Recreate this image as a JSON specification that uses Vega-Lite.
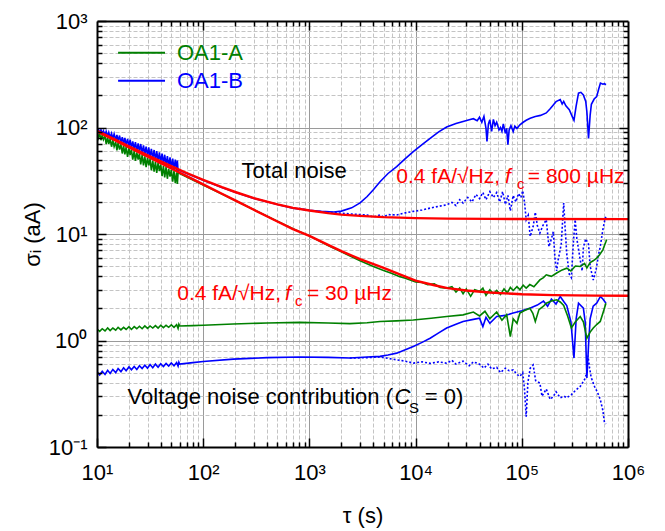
{
  "$schema": "https://vega.github.io/schema/vega-lite/v6.json",
  "width": 531,
  "height": 426,
  "autosize": {"type": "none"},
  "padding": {"left": 97, "top": 21, "right": 37, "bottom": 84},
  "config": {
    "view": {"stroke": null},
    "font": "Liberation Sans",
    "legend": {"disable": true},
    "axis": {"labelFont": "Liberation Sans", "titleFont": "Liberation Sans"}
  },
  "datasets": {
    "B_tot": [
      {"t":10,"v":93},{"t":10.3,"v":96},{"t":10.6,"v":90},{"t":10.9,"v":95},{"t":11.2,"v":87.5},{"t":11.5,"v":93},{"t":11.9,"v":85},{"t":12.2,"v":92},{"t":12.6,"v":83},{"t":12.9,"v":90},{"t":13.3,"v":80.5},{"t":13.7,"v":88},{"t":14.1,"v":78.5},{"t":14.5,"v":87},{"t":15,"v":76},{"t":15.4,"v":85},{"t":15.8,"v":74},{"t":16.3,"v":84},{"t":16.8,"v":72},{"t":17.3,"v":81},{"t":17.8,"v":70},{"t":18.3,"v":80},{"t":18.8,"v":68},{"t":19.4,"v":78},{"t":20,"v":66},{"t":20.5,"v":77},{"t":21.1,"v":64},{"t":21.7,"v":74},{"t":22.4,"v":62.5},{"t":23,"v":73},{"t":23.7,"v":60.5},{"t":24.4,"v":71},{"t":25.1,"v":59},{"t":25.8,"v":70},{"t":26.6,"v":57},{"t":27.4,"v":68},{"t":28.2,"v":55.5},{"t":29,"v":66},{"t":29.9,"v":54},{"t":30.7,"v":65},{"t":31.6,"v":52.5},{"t":32.5,"v":63},{"t":33.5,"v":51},{"t":34.5,"v":61.5},{"t":35.5,"v":49.5},{"t":36.5,"v":60},{"t":37.6,"v":48},{"t":38.7,"v":58.5},{"t":39.8,"v":47},{"t":41,"v":57},{"t":42.2,"v":45.5},{"t":43.4,"v":55.5},{"t":44.7,"v":44},{"t":46,"v":54},{"t":47.3,"v":43},{"t":48.7,"v":52.5},{"t":50.1,"v":41.5},{"t":51.6,"v":51},{"t":53.1,"v":40.5},{"t":54.6,"v":50},{"t":56.2,"v":39.5},{"t":57.1,"v":49},{"t":58,"v":39},{"t":59,"v":39.5},
      {"t":60,"v":39.5},{"t":80,"v":35},{"t":100,"v":32},{"t":150,"v":27.4},{"t":200,"v":24.7},{"t":300,"v":21.6},{"t":500,"v":18.9},{"t":700,"v":17.5},{"t":1000,"v":16.7},{"t":1300,"v":16.3},{"t":1700,"v":16.1},{"t":2000,"v":16.4},{"t":2500,"v":17.6},{"t":3000,"v":19.6},{"t":3500,"v":22.5},{"t":4000,"v":26},{"t":4624,"v":31},{"t":5500,"v":37},{"t":6637,"v":43},{"t":8000,"v":51},{"t":9510,"v":59.3},{"t":11500,"v":69},{"t":13700,"v":79},{"t":16500,"v":91},{"t":19600,"v":101},{"t":24000,"v":109},{"t":28000,"v":114},{"t":32000,"v":118},{"t":35000,"v":121},{"t":38000,"v":116},{"t":40000,"v":125},{"t":42000,"v":112},{"t":44000,"v":127},{"t":46000,"v":98},{"t":47000,"v":74},{"t":48500,"v":108},{"t":50000,"v":118},{"t":52000,"v":92},{"t":54000,"v":119},{"t":56000,"v":104},{"t":58000,"v":112},{"t":61000,"v":95},{"t":63000,"v":100},{"t":65000,"v":92},{"t":67000,"v":108},{"t":70000,"v":88},{"t":72000,"v":98},{"t":74000,"v":69},{"t":76000,"v":95},{"t":79000,"v":104},{"t":83000,"v":91.5},{"t":86000,"v":103},{"t":90000,"v":98},{"t":96000,"v":106},{"t":103000,"v":112},{"t":110000,"v":117},{"t":120000,"v":122},{"t":134000,"v":127},{"t":150000,"v":130},{"t":170000,"v":137},{"t":185000,"v":150},{"t":198000,"v":163},{"t":210000,"v":175},{"t":230000,"v":183},{"t":240000,"v":166},{"t":248000,"v":176},{"t":260000,"v":160},{"t":280000,"v":147},{"t":300000,"v":125},{"t":310000,"v":117},{"t":325000,"v":160},{"t":342000,"v":210},{"t":360000,"v":214},{"t":380000,"v":202},{"t":400000,"v":176},{"t":410000,"v":140},{"t":425000,"v":79},{"t":440000,"v":130},{"t":452000,"v":165},{"t":480000,"v":185},{"t":507000,"v":195},{"t":530000,"v":230},{"t":550000,"v":261},{"t":580000,"v":255},{"t":600000,"v":258},{"t":620000,"v":252}
    ],
    "B_tot2": [
      {"t":800,"v":17.4},{"t":1000,"v":16.6},{"t":1300,"v":16.1},{"t":1660,"v":15.9},{"t":2000,"v":15.7},{"t":2500,"v":15.4},{"t":3500,"v":15.1},{"t":4000,"v":14.4},{"t":4624,"v":15.1},{"t":5000,"v":14.4},{"t":5500,"v":15.2},{"t":6637,"v":15.1},{"t":8000,"v":15.8},{"t":9510,"v":16.3},{"t":11500,"v":16.8},{"t":13700,"v":17.5},{"t":16500,"v":18.2},{"t":19600,"v":18.8},{"t":22000,"v":19.8},{"t":24000,"v":18.5},{"t":26000,"v":21},{"t":28000,"v":19.5},{"t":31000,"v":22},{"t":34000,"v":20},{"t":37000,"v":23.5},{"t":40000,"v":21.5},{"t":43000,"v":24.5},{"t":46000,"v":21},{"t":50000,"v":25},{"t":54000,"v":22},{"t":58000,"v":24.5},{"t":62000,"v":20},{"t":66000,"v":25},{"t":70000,"v":19},{"t":74000,"v":23},{"t":78000,"v":16.5},{"t":83000,"v":23},{"t":88000,"v":20},{"t":93000,"v":24},{"t":98000,"v":22},{"t":102000,"v":25.5},{"t":106000,"v":20},{"t":110000,"v":13.6},{"t":115000,"v":15},{"t":120000,"v":9.5},{"t":128000,"v":11.8},{"t":134000,"v":16},{"t":140000,"v":12},{"t":148000,"v":10.2},{"t":158000,"v":12},{"t":170000,"v":13.6},{"t":180000,"v":7.6},{"t":190000,"v":9},{"t":198000,"v":10.5},{"t":205000,"v":6},{"t":213000,"v":4.5},{"t":220000,"v":5.7},{"t":235000,"v":8},{"t":248000,"v":19.5},{"t":255000,"v":12},{"t":265000,"v":6.5},{"t":280000,"v":4.2},{"t":293000,"v":3.9},{"t":305000,"v":8},{"t":318000,"v":13.6},{"t":330000,"v":9},{"t":355000,"v":5.7},{"t":370000,"v":4.5},{"t":380000,"v":7.5},{"t":400000,"v":9},{"t":425000,"v":8},{"t":440000,"v":5},{"t":471000,"v":3.7},{"t":500000,"v":4.6},{"t":530000,"v":6.5},{"t":548000,"v":7.6},{"t":580000,"v":11},{"t":610000,"v":14.1},{"t":620000,"v":14.5}
    ],
    "B_v": [
      {"t":10,"v":0.51},{"t":10.6,"v":0.475},{"t":11.2,"v":0.515},{"t":11.9,"v":0.48},{"t":12.6,"v":0.525},{"t":13.3,"v":0.49},{"t":14.1,"v":0.535},{"t":15,"v":0.5},{"t":15.8,"v":0.545},{"t":16.8,"v":0.51},{"t":17.8,"v":0.555},{"t":18.8,"v":0.52},{"t":20,"v":0.565},{"t":21.1,"v":0.53},{"t":22.4,"v":0.57},{"t":23.7,"v":0.535},{"t":25.1,"v":0.58},{"t":26.6,"v":0.545},{"t":28.2,"v":0.585},{"t":29.9,"v":0.55},{"t":31.6,"v":0.595},{"t":33.5,"v":0.555},{"t":35.5,"v":0.6},{"t":37.6,"v":0.56},{"t":39.8,"v":0.605},{"t":42.2,"v":0.57},{"t":44.7,"v":0.61},{"t":47.3,"v":0.575},{"t":50.1,"v":0.615},{"t":53.1,"v":0.58},{"t":56.2,"v":0.62},{"t":58,"v":0.575},{"t":59,"v":0.625},{"t":60,"v":0.6},{"t":80,"v":0.62},{"t":100,"v":0.635},{"t":192,"v":0.669},{"t":400,"v":0.69},{"t":813,"v":0.7},{"t":1500,"v":0.695},{"t":2400,"v":0.684},{"t":3500,"v":0.7},{"t":4624,"v":0.71},{"t":5500,"v":0.73},{"t":6637,"v":0.761},{"t":8000,"v":0.82},{"t":9510,"v":0.878},{"t":11500,"v":0.96},{"t":13700,"v":1.05},{"t":16500,"v":1.18},{"t":19600,"v":1.31},{"t":24000,"v":1.42},{"t":28000,"v":1.51},{"t":35000,"v":1.58},{"t":40000,"v":1.62},{"t":43000,"v":1.35},{"t":46000,"v":1.65},{"t":50000,"v":1.45},{"t":58000,"v":1.68},{"t":70000,"v":1.72},{"t":83000,"v":1.81},{"t":100000,"v":1.9},{"t":119000,"v":2.01},{"t":140000,"v":2.15},{"t":160000,"v":2.35},{"t":175000,"v":2.1},{"t":190000,"v":2.45},{"t":210000,"v":2.2},{"t":230000,"v":2.59},{"t":250000,"v":2.3},{"t":265000,"v":2.13},{"t":290000,"v":1.5},{"t":310000,"v":0.684},{"t":325000,"v":1.6},{"t":342000,"v":2.24},{"t":380000,"v":2.01},{"t":395000,"v":1.5},{"t":410000,"v":0.444},{"t":425000,"v":0.9},{"t":440000,"v":1.6},{"t":470000,"v":2.1},{"t":507000,"v":2.24},{"t":550000,"v":2.59},{"t":580000,"v":2.45},{"t":620000,"v":2.24}
    ],
    "B_v2": [
      {"t":2400,"v":0.684},{"t":3500,"v":0.69},{"t":4624,"v":0.7},{"t":5500,"v":0.68},{"t":6637,"v":0.659},{"t":8000,"v":0.64},{"t":9510,"v":0.613},{"t":11500,"v":0.63},{"t":13700,"v":0.61},{"t":16500,"v":0.63},{"t":19600,"v":0.612},{"t":22000,"v":0.65},{"t":24000,"v":0.6},{"t":28000,"v":0.64},{"t":32000,"v":0.58},{"t":35000,"v":0.63},{"t":40000,"v":0.6},{"t":44000,"v":0.55},{"t":48000,"v":0.6},{"t":52000,"v":0.54},{"t":58000,"v":0.56},{"t":63000,"v":0.5},{"t":70000,"v":0.55},{"t":76000,"v":0.52},{"t":83000,"v":0.53},{"t":90000,"v":0.48},{"t":96000,"v":0.46},{"t":102000,"v":0.5},{"t":106000,"v":0.35},{"t":110000,"v":0.193},{"t":114000,"v":0.4},{"t":120000,"v":0.55},{"t":128000,"v":0.59},{"t":135000,"v":0.42},{"t":148000,"v":0.398},{"t":155000,"v":0.3},{"t":170000,"v":0.35},{"t":185000,"v":0.28},{"t":198000,"v":0.298},{"t":210000,"v":0.33},{"t":230000,"v":0.29},{"t":250000,"v":0.3},{"t":265000,"v":0.29},{"t":293000,"v":0.31},{"t":320000,"v":0.34},{"t":355000,"v":0.37},{"t":390000,"v":0.43},{"t":410000,"v":0.5},{"t":420000,"v":0.72},{"t":435000,"v":0.55},{"t":450000,"v":0.45},{"t":484000,"v":0.37},{"t":520000,"v":0.32},{"t":548000,"v":0.28},{"t":580000,"v":0.22},{"t":600000,"v":0.17},{"t":620000,"v":0.165}
    ],
    "A_tot": [
      {"t":10,"v":91},{"t":10.3,"v":80},{"t":10.6,"v":88},{"t":10.9,"v":76},{"t":11.2,"v":85},{"t":11.5,"v":77},{"t":11.9,"v":83},{"t":12.2,"v":70},{"t":12.6,"v":80.5},{"t":12.9,"v":70},{"t":13.3,"v":78},{"t":13.7,"v":66},{"t":14.1,"v":76},{"t":14.5,"v":66},{"t":15,"v":73},{"t":15.4,"v":61},{"t":15.8,"v":72},{"t":16.3,"v":62},{"t":16.8,"v":69.5},{"t":17.3,"v":57},{"t":17.8,"v":67.5},{"t":18.3,"v":56},{"t":18.8,"v":65.5},{"t":19.4,"v":53},{"t":20,"v":64},{"t":20.5,"v":55},{"t":21.1,"v":62},{"t":21.7,"v":50},{"t":22.4,"v":60},{"t":23,"v":48.5},{"t":23.7,"v":58.5},{"t":24.4,"v":50},{"t":25.1,"v":57},{"t":25.8,"v":45},{"t":26.6,"v":55},{"t":27.4,"v":44},{"t":28.2,"v":53.5},{"t":29,"v":42.5},{"t":29.9,"v":52},{"t":30.7,"v":44},{"t":31.6,"v":50.5},{"t":32.5,"v":39.5},{"t":33.5,"v":49},{"t":34.5,"v":38.5},{"t":35.5,"v":47.5},{"t":36.5,"v":37.5},{"t":37.6,"v":46.5},{"t":38.7,"v":39},{"t":39.8,"v":45},{"t":41,"v":35},{"t":42.2,"v":43.5},{"t":43.4,"v":34},{"t":44.7,"v":42.5},{"t":46,"v":33},{"t":47.3,"v":41},{"t":48.7,"v":34.5},{"t":50.1,"v":40},{"t":51.6,"v":31},{"t":53.1,"v":39},{"t":54.6,"v":30},{"t":56.2,"v":38},{"t":57.1,"v":29.5},{"t":58,"v":37.5},
      {"t":60,"v":37},{"t":80,"v":32.2},{"t":100,"v":28.9},{"t":150,"v":23.7},{"t":200,"v":20.6},{"t":300,"v":16.9},{"t":500,"v":13.2},{"t":700,"v":11.2},{"t":1000,"v":9.6},{"t":1500,"v":7.8},{"t":2000,"v":6.8},{"t":2500,"v":6.1},{"t":3000,"v":5.6},{"t":4000,"v":4.95},{"t":5000,"v":4.55},{"t":6000,"v":4.25},{"t":7000,"v":4.0},{"t":8000,"v":3.85},{"t":10000,"v":3.55},{"t":11500,"v":3.5},{"t":13000,"v":3.35},{"t":15000,"v":3.4},{"t":17000,"v":3.15},{"t":19600,"v":3.1},{"t":22000,"v":3.2},{"t":24000,"v":2.85},{"t":26000,"v":3.1},{"t":28000,"v":2.75},{"t":30000,"v":3.05},{"t":33000,"v":2.6},{"t":36000,"v":3.0},{"t":40000,"v":2.9},{"t":43000,"v":3.1},{"t":46000,"v":2.65},{"t":50000,"v":3.0},{"t":54000,"v":2.75},{"t":58000,"v":2.95},{"t":63000,"v":2.7},{"t":68000,"v":3.05},{"t":73000,"v":2.8},{"t":78000,"v":3.15},{"t":83000,"v":2.95},{"t":90000,"v":3.2},{"t":96000,"v":3.0},{"t":103000,"v":3.3},{"t":110000,"v":3.1},{"t":119000,"v":3.35},{"t":130000,"v":3.2},{"t":148000,"v":3.71},{"t":160000,"v":3.9},{"t":170000,"v":4.14},{"t":190000,"v":4.0},{"t":213000,"v":4.3},{"t":240000,"v":4.6},{"t":265000,"v":4.78},{"t":290000,"v":4.5},{"t":320000,"v":5.0},{"t":355000,"v":4.95},{"t":390000,"v":5.3},{"t":410000,"v":4.8},{"t":440000,"v":5.4},{"t":470000,"v":5.6},{"t":507000,"v":5.94},{"t":540000,"v":6.4},{"t":580000,"v":7.1},{"t":600000,"v":7.8},{"t":620000,"v":8.5},{"t":630000,"v":8.9}
    ],
    "A_v": [
      {"t":10,"v":1.28},{"t":10.6,"v":1.22},{"t":11.2,"v":1.29},{"t":11.9,"v":1.23},{"t":12.6,"v":1.31},{"t":13.3,"v":1.24},{"t":14.1,"v":1.31},{"t":15,"v":1.25},{"t":15.8,"v":1.33},{"t":16.8,"v":1.26},{"t":17.8,"v":1.33},{"t":18.8,"v":1.27},{"t":20,"v":1.35},{"t":21.1,"v":1.27},{"t":22.4,"v":1.35},{"t":23.7,"v":1.29},{"t":25.1,"v":1.36},{"t":26.6,"v":1.29},{"t":28.2,"v":1.37},{"t":29.9,"v":1.3},{"t":31.6,"v":1.37},{"t":33.5,"v":1.31},{"t":35.5,"v":1.38},{"t":37.6,"v":1.31},{"t":39.8,"v":1.39},{"t":42.2,"v":1.32},{"t":44.7,"v":1.39},{"t":47.3,"v":1.33},{"t":50.1,"v":1.4},{"t":53.1,"v":1.33},{"t":56.2,"v":1.41},{"t":58,"v":1.3},{"t":59,"v":1.42},{"t":60,"v":1.37},{"t":80,"v":1.38},{"t":100,"v":1.39},{"t":192,"v":1.43},{"t":400,"v":1.46},{"t":813,"v":1.48},{"t":1500,"v":1.46},{"t":2400,"v":1.44},{"t":3500,"v":1.47},{"t":4624,"v":1.51},{"t":6600,"v":1.53},{"t":9510,"v":1.56},{"t":14000,"v":1.62},{"t":19600,"v":1.68},{"t":28000,"v":1.74},{"t":35000,"v":1.85},{"t":40000,"v":1.7},{"t":45000,"v":1.88},{"t":50000,"v":1.6},{"t":58000,"v":1.85},{"t":65000,"v":1.55},{"t":72000,"v":1.75},{"t":78000,"v":1.09},{"t":83000,"v":1.6},{"t":90000,"v":1.45},{"t":96000,"v":1.81},{"t":105000,"v":1.9},{"t":119000,"v":2.01},{"t":127000,"v":1.8},{"t":134000,"v":1.51},{"t":145000,"v":1.95},{"t":160000,"v":2.1},{"t":170000,"v":2.24},{"t":190000,"v":2.35},{"t":213000,"v":2.41},{"t":230000,"v":2.3},{"t":248000,"v":2.13},{"t":270000,"v":1.7},{"t":293000,"v":1.31},{"t":320000,"v":1.5},{"t":355000,"v":1.68},{"t":380000,"v":1.5},{"t":410000,"v":1.05},{"t":440000,"v":1.2},{"t":471000,"v":1.31},{"t":510000,"v":1.42},{"t":548000,"v":1.51},{"t":580000,"v":1.8},{"t":620000,"v":2.24}
    ],
    "fits": [
      {"fc":"800 µHz","t":10,"v":93},{"fc":"800 µHz","t":15,"v":76.4},{"fc":"800 µHz","t":20,"v":66.5},{"fc":"800 µHz","t":30,"v":54.9},{"fc":"800 µHz","t":50,"v":43.4},{"fc":"800 µHz","t":70,"v":37.4},{"fc":"800 µHz","t":100,"v":32.2},{"fc":"800 µHz","t":150,"v":27.5},{"fc":"800 µHz","t":200,"v":24.8},{"fc":"800 µHz","t":300,"v":21.7},{"fc":"800 µHz","t":500,"v":19.0},{"fc":"800 µHz","t":700,"v":17.6},{"fc":"800 µHz","t":1000,"v":16.6},{"fc":"800 µHz","t":1500,"v":15.7},{"fc":"800 µHz","t":2000,"v":15.2},{"fc":"800 µHz","t":3000,"v":14.8},{"fc":"800 µHz","t":5000,"v":14.4},{"fc":"800 µHz","t":10000,"v":14.1},{"fc":"800 µHz","t":20000,"v":13.95},{"fc":"800 µHz","t":50000,"v":13.86},{"fc":"800 µHz","t":100000,"v":13.83},{"fc":"800 µHz","t":1000000,"v":13.8},
      {"fc":"30 µHz","t":10,"v":92},{"fc":"30 µHz","t":15,"v":75.2},{"fc":"30 µHz","t":20,"v":65.1},{"fc":"30 µHz","t":30,"v":53.2},{"fc":"30 µHz","t":50,"v":41.2},{"fc":"30 µHz","t":70,"v":34.9},{"fc":"30 µHz","t":100,"v":29.2},{"fc":"30 µHz","t":150,"v":23.9},{"fc":"30 µHz","t":200,"v":20.7},{"fc":"30 µHz","t":300,"v":16.9},{"fc":"30 µHz","t":500,"v":13.1},{"fc":"30 µHz","t":700,"v":11.1},{"fc":"30 µHz","t":1000,"v":9.6},{"fc":"30 µHz","t":1500,"v":7.9},{"fc":"30 µHz","t":2000,"v":6.9},{"fc":"30 µHz","t":3000,"v":5.8},{"fc":"30 µHz","t":5000,"v":4.8},{"fc":"30 µHz","t":7000,"v":4.2},{"fc":"30 µHz","t":10000,"v":3.65},{"fc":"30 µHz","t":15000,"v":3.3},{"fc":"30 µHz","t":20000,"v":3.1},{"fc":"30 µHz","t":30000,"v":2.95},{"fc":"30 µHz","t":50000,"v":2.82},{"fc":"30 µHz","t":100000,"v":2.72},{"fc":"30 µHz","t":200000,"v":2.67},{"fc":"30 µHz","t":500000,"v":2.64},{"fc":"30 µHz","t":1000000,"v":2.63}
    ],
    "legend": [
      {"sample": "OA1-A", "t1": 15.8, "t2": 43.7, "tl": 56.6, "v": 503},
      {"sample": "OA1-B", "t1": 15.8, "t2": 43.7, "tl": 56.6, "v": 275}
    ]
  },
  "resolve": {"axis": {"x": "independent", "y": "independent"}},
  "layer": [
    {
      "data": {"name": "B_tot"},
      "mark": {"type": "line", "strokeWidth": 1.6, "clip": true},
      "encoding": {
        "x": {"field": "t", "type": "quantitative", "scale": {"type": "log", "domain": [10, 1000000], "nice": false},
          "axis": {"orient": "bottom", "values": [10, 100, 1000, 10000, 100000, 1000000], "grid": false, "ticks": true, "tickSize": -9, "tickColor": "black", "tickWidth": 1.5, "domain": true, "domainColor": "black", "domainWidth": 2, "zindex": 1,
            "labelExpr": "'10' + ['⁻¹','⁰','¹','²','³','⁴','⁵','⁶'][round(log(datum.value)/LN10)+1]",
            "labelFontSize": 22, "labelColor": "black", "labelPadding": 24, "labelFlush": false, "labelOverlap": false,
            "title": "τ (s)", "titleFontSize": 22, "titleFontWeight": "normal", "titleColor": "black", "titleY": 68, "titleBaseline": "middle"}},
        "y": {"field": "v", "type": "quantitative", "scale": {"type": "log", "domain": [0.1, 1000], "nice": false},
          "axis": {"orient": "left", "values": [0.1, 1, 10, 100, 1000], "grid": false, "ticks": true, "tickSize": -9, "tickColor": "black", "tickWidth": 1.5, "domain": true, "domainColor": "black", "domainWidth": 2, "zindex": 1,
            "labelExpr": "'10' + ['⁻¹','⁰','¹','²','³','⁴','⁵','⁶'][round(log(datum.value)/LN10)+1]",
            "labelFontSize": 22, "labelColor": "black", "labelPadding": 19, "labelBaseline": "middle", "labelFlush": false, "labelOverlap": false,
            "title": "σᵢ (aA)", "titleFontSize": 22, "titleFontWeight": "normal", "titleColor": "black", "titleX": -65, "titleY": 213, "titleAngle": -90, "titleAlign": "center", "titleBaseline": "middle"}},
        "color": {"datum": "OA1-B", "scale": {"domain": ["OA1-A", "OA1-B"], "range": ["#008000", "#0000ff"]}}
      }
    },
    {
      "data": {"name": "B_tot2"},
      "mark": {"type": "line", "strokeWidth": 1.6, "strokeDash": [2, 2], "clip": true},
      "encoding": {
        "x": {"field": "t", "type": "quantitative", "scale": {"type": "log", "domain": [10, 1000000], "nice": false},
          "axis": {"orient": "bottom", "values": [20,30,40,50,60,70,80,90,200,300,400,500,600,700,800,900,2000,3000,4000,5000,6000,7000,8000,9000,20000,30000,40000,50000,60000,70000,80000,90000,200000,300000,400000,500000,600000,700000,800000,900000],
            "grid": true, "gridColor": "#c4c4c4", "gridDash": [4, 2], "gridWidth": 1, "ticks": false, "labels": false, "domain": false, "title": null, "zindex": 0}},
        "y": {"field": "v", "type": "quantitative", "scale": {"type": "log", "domain": [0.1, 1000], "nice": false},
          "axis": {"orient": "left", "values": [0.2,0.3,0.4,0.5,0.6,0.7,0.8,0.9,2,3,4,5,6,7,8,9,20,30,40,50,60,70,80,90,200,300,400,500,600,700,800,900],
            "grid": true, "gridColor": "#c4c4c4", "gridDash": [4, 2], "gridWidth": 1, "ticks": false, "labels": false, "domain": false, "title": null, "zindex": 0}},
        "color": {"datum": "OA1-B"}
      }
    },
    {
      "data": {"name": "B_v"},
      "mark": {"type": "line", "strokeWidth": 1.6, "clip": true},
      "encoding": {
        "x": {"field": "t", "type": "quantitative", "scale": {"type": "log", "domain": [10, 1000000], "nice": false},
          "axis": {"orient": "bottom", "values": [100, 1000, 10000, 100000], "grid": true, "gridColor": "#9a9a9a", "gridWidth": 1, "ticks": false, "labels": false, "domain": false, "title": null, "zindex": 0}},
        "y": {"field": "v", "type": "quantitative", "scale": {"type": "log", "domain": [0.1, 1000], "nice": false},
          "axis": {"orient": "left", "values": [1, 10, 100], "grid": true, "gridColor": "#9a9a9a", "gridWidth": 1, "ticks": false, "labels": false, "domain": false, "title": null, "zindex": 0}},
        "color": {"datum": "OA1-B"}
      }
    },
    {
      "data": {"name": "B_v2"},
      "mark": {"type": "line", "strokeWidth": 1.6, "strokeDash": [2, 2], "clip": true},
      "encoding": {
        "x": {"field": "t", "type": "quantitative", "scale": {"type": "log", "domain": [10, 1000000], "nice": false},
          "axis": {"orient": "top", "values": [100, 1000, 10000, 100000], "grid": false, "ticks": true, "tickSize": -9, "tickColor": "black", "tickWidth": 1.5, "labels": false, "domain": true, "domainColor": "black", "domainWidth": 2, "title": null, "zindex": 1}},
        "y": {"field": "v", "type": "quantitative", "scale": {"type": "log", "domain": [0.1, 1000], "nice": false},
          "axis": {"orient": "right", "values": [1, 10, 100], "grid": false, "ticks": true, "tickSize": -9, "tickColor": "black", "tickWidth": 1.5, "labels": false, "domain": true, "domainColor": "black", "domainWidth": 2, "title": null, "zindex": 1}},
        "color": {"datum": "OA1-B"}
      }
    },
    {
      "data": {"name": "A_tot"},
      "mark": {"type": "line", "strokeWidth": 1.6, "clip": true},
      "encoding": {
        "x": {"field": "t", "type": "quantitative", "scale": {"type": "log", "domain": [10, 1000000], "nice": false},
          "axis": {"orient": "bottom", "values": [20,30,40,50,60,70,80,90,200,300,400,500,600,700,800,900,2000,3000,4000,5000,6000,7000,8000,9000,20000,30000,40000,50000,60000,70000,80000,90000,200000,300000,400000,500000,600000,700000,800000,900000],
            "grid": false, "ticks": true, "tickSize": -5, "tickColor": "black", "tickWidth": 1.5, "labels": false, "domain": false, "title": null, "zindex": 1}},
        "y": {"field": "v", "type": "quantitative", "scale": {"type": "log", "domain": [0.1, 1000], "nice": false},
          "axis": {"orient": "left", "values": [0.2,0.3,0.4,0.5,0.6,0.7,0.8,0.9,2,3,4,5,6,7,8,9,20,30,40,50,60,70,80,90,200,300,400,500,600,700,800,900],
            "grid": false, "ticks": true, "tickSize": -5, "tickColor": "black", "tickWidth": 1.5, "labels": false, "domain": false, "title": null, "zindex": 1}},
        "color": {"datum": "OA1-A"}
      }
    },
    {
      "data": {"name": "A_v"},
      "mark": {"type": "line", "strokeWidth": 1.6, "clip": true},
      "encoding": {
        "x": {"field": "t", "type": "quantitative", "scale": {"type": "log", "domain": [10, 1000000], "nice": false},
          "axis": {"orient": "top", "values": [20,30,40,50,60,70,80,90,200,300,400,500,600,700,800,900,2000,3000,4000,5000,6000,7000,8000,9000,20000,30000,40000,50000,60000,70000,80000,90000,200000,300000,400000,500000,600000,700000,800000,900000],
            "grid": false, "ticks": true, "tickSize": -5, "tickColor": "black", "tickWidth": 1.5, "labels": false, "domain": false, "title": null, "zindex": 1}},
        "y": {"field": "v", "type": "quantitative", "scale": {"type": "log", "domain": [0.1, 1000], "nice": false},
          "axis": {"orient": "right", "values": [0.2,0.3,0.4,0.5,0.6,0.7,0.8,0.9,2,3,4,5,6,7,8,9,20,30,40,50,60,70,80,90,200,300,400,500,600,700,800,900],
            "grid": false, "ticks": true, "tickSize": -5, "tickColor": "black", "tickWidth": 1.5, "labels": false, "domain": false, "title": null, "zindex": 1}},
        "color": {"datum": "OA1-A"}
      }
    },
    {
      "data": {"name": "fits"},
      "mark": {"type": "line", "strokeWidth": 2.4, "color": "#ff0000", "clip": true},
      "encoding": {
        "x": {"field": "t", "type": "quantitative", "scale": {"type": "log", "domain": [10, 1000000], "nice": false}, "axis": null},
        "y": {"field": "v", "type": "quantitative", "scale": {"type": "log", "domain": [0.1, 1000], "nice": false}, "axis": null},
        "detail": {"field": "fc"}
      }
    },
    {
      "data": {"name": "legend"},
      "mark": {"type": "rule", "strokeWidth": 2},
      "encoding": {
        "x": {"field": "t1", "type": "quantitative", "scale": {"type": "log", "domain": [10, 1000000], "nice": false}, "axis": null},
        "x2": {"field": "t2"},
        "y": {"field": "v", "type": "quantitative", "scale": {"type": "log", "domain": [0.1, 1000], "nice": false}, "axis": null},
        "color": {"field": "sample", "type": "nominal"}
      }
    },
    {
      "data": {"name": "legend"},
      "mark": {"type": "text", "align": "left", "baseline": "middle", "fontSize": 22, "font": "Liberation Sans"},
      "encoding": {
        "x": {"field": "tl", "type": "quantitative", "scale": {"type": "log", "domain": [10, 1000000], "nice": false}, "axis": null},
        "y": {"field": "v", "type": "quantitative", "scale": {"type": "log", "domain": [0.1, 1000], "nice": false}, "axis": null},
        "text": {"field": "sample"},
        "color": {"field": "sample", "type": "nominal"}
      }
    },
    {
      "data": {"values": [{"label": "Total noise", "t": 230, "v": 33.7}, {"label": "= 0)", "t": 12200, "v": 0.2545}]},
      "mark": {"type": "text", "align": "left", "baseline": "alphabetic", "fontSize": 22, "font": "Liberation Sans", "color": "black"},
      "encoding": {
        "x": {"field": "t", "type": "quantitative", "scale": {"type": "log", "domain": [10, 1000000], "nice": false}, "axis": null},
        "y": {"field": "v", "type": "quantitative", "scale": {"type": "log", "domain": [0.1, 1000], "nice": false}, "axis": null},
        "text": {"field": "label"}
      }
    },
    {
      "data": {"values": [{"label": "Voltage noise contribution (", "t": 6124, "v": 0.2545}]},
      "mark": {"type": "text", "align": "right", "baseline": "alphabetic", "fontSize": 22, "font": "Liberation Sans", "color": "black"},
      "encoding": {
        "x": {"field": "t", "type": "quantitative", "scale": {"type": "log", "domain": [10, 1000000], "nice": false}, "axis": null},
        "y": {"field": "v", "type": "quantitative", "scale": {"type": "log", "domain": [0.1, 1000], "nice": false}, "axis": null},
        "text": {"field": "label"}
      }
    },
    {
      "data": {"values": [{"label": "C", "t": 6324, "v": 0.2545}]},
      "mark": {"type": "text", "align": "left", "baseline": "alphabetic", "fontSize": 22, "fontStyle": "italic", "font": "Liberation Sans", "color": "black"},
      "encoding": {
        "x": {"field": "t", "type": "quantitative", "scale": {"type": "log", "domain": [10, 1000000], "nice": false}, "axis": null},
        "y": {"field": "v", "type": "quantitative", "scale": {"type": "log", "domain": [0.1, 1000], "nice": false}, "axis": null},
        "text": {"field": "label"}
      }
    },
    {
      "data": {"values": [{"label": "S", "t": 8670, "v": 0.208}]},
      "mark": {"type": "text", "align": "left", "baseline": "alphabetic", "fontSize": 15, "font": "Liberation Sans", "color": "black"},
      "encoding": {
        "x": {"field": "t", "type": "quantitative", "scale": {"type": "log", "domain": [10, 1000000], "nice": false}, "axis": null},
        "y": {"field": "v", "type": "quantitative", "scale": {"type": "log", "domain": [0.1, 1000], "nice": false}, "axis": null},
        "text": {"field": "label"}
      }
    },
    {
      "data": {"values": [{"label": "0.4 fA/√Hz,", "t": 62400, "v": 30.1}, {"label": "0.4 fA/√Hz,", "t": 540, "v": 2.41}]},
      "mark": {"type": "text", "align": "right", "baseline": "alphabetic", "fontSize": 21, "font": "Liberation Sans", "color": "#ff0000"},
      "encoding": {
        "x": {"field": "t", "type": "quantitative", "scale": {"type": "log", "domain": [10, 1000000], "nice": false}, "axis": null},
        "y": {"field": "v", "type": "quantitative", "scale": {"type": "log", "domain": [0.1, 1000], "nice": false}, "axis": null},
        "text": {"field": "label"}
      }
    },
    {
      "data": {"values": [{"label": "= 800 µHz", "t": 114000, "v": 30.1}, {"label": "= 30 µHz", "t": 948, "v": 2.41}]},
      "mark": {"type": "text", "align": "left", "baseline": "alphabetic", "fontSize": 21, "font": "Liberation Sans", "color": "#ff0000"},
      "encoding": {
        "x": {"field": "t", "type": "quantitative", "scale": {"type": "log", "domain": [10, 1000000], "nice": false}, "axis": null},
        "y": {"field": "v", "type": "quantitative", "scale": {"type": "log", "domain": [0.1, 1000], "nice": false}, "axis": null},
        "text": {"field": "label"}
      }
    },
    {
      "data": {"values": [{"label": "f", "t": 69500, "v": 30.1}, {"label": "f", "t": 589, "v": 2.41}]},
      "mark": {"type": "text", "align": "left", "baseline": "alphabetic", "fontSize": 21, "fontStyle": "italic", "font": "Liberation Sans", "color": "#ff0000"},
      "encoding": {
        "x": {"field": "t", "type": "quantitative", "scale": {"type": "log", "domain": [10, 1000000], "nice": false}, "axis": null},
        "y": {"field": "v", "type": "quantitative", "scale": {"type": "log", "domain": [0.1, 1000], "nice": false}, "axis": null},
        "text": {"field": "label"}
      }
    },
    {
      "data": {"values": [{"label": "c", "t": 90200, "v": 26.3}, {"label": "c", "t": 731, "v": 2.12}]},
      "mark": {"type": "text", "align": "left", "baseline": "alphabetic", "fontSize": 15, "font": "Liberation Sans", "color": "#ff0000"},
      "encoding": {
        "x": {"field": "t", "type": "quantitative", "scale": {"type": "log", "domain": [10, 1000000], "nice": false}, "axis": null},
        "y": {"field": "v", "type": "quantitative", "scale": {"type": "log", "domain": [0.1, 1000], "nice": false}, "axis": null},
        "text": {"field": "label"}
      }
    }
  ]
}
